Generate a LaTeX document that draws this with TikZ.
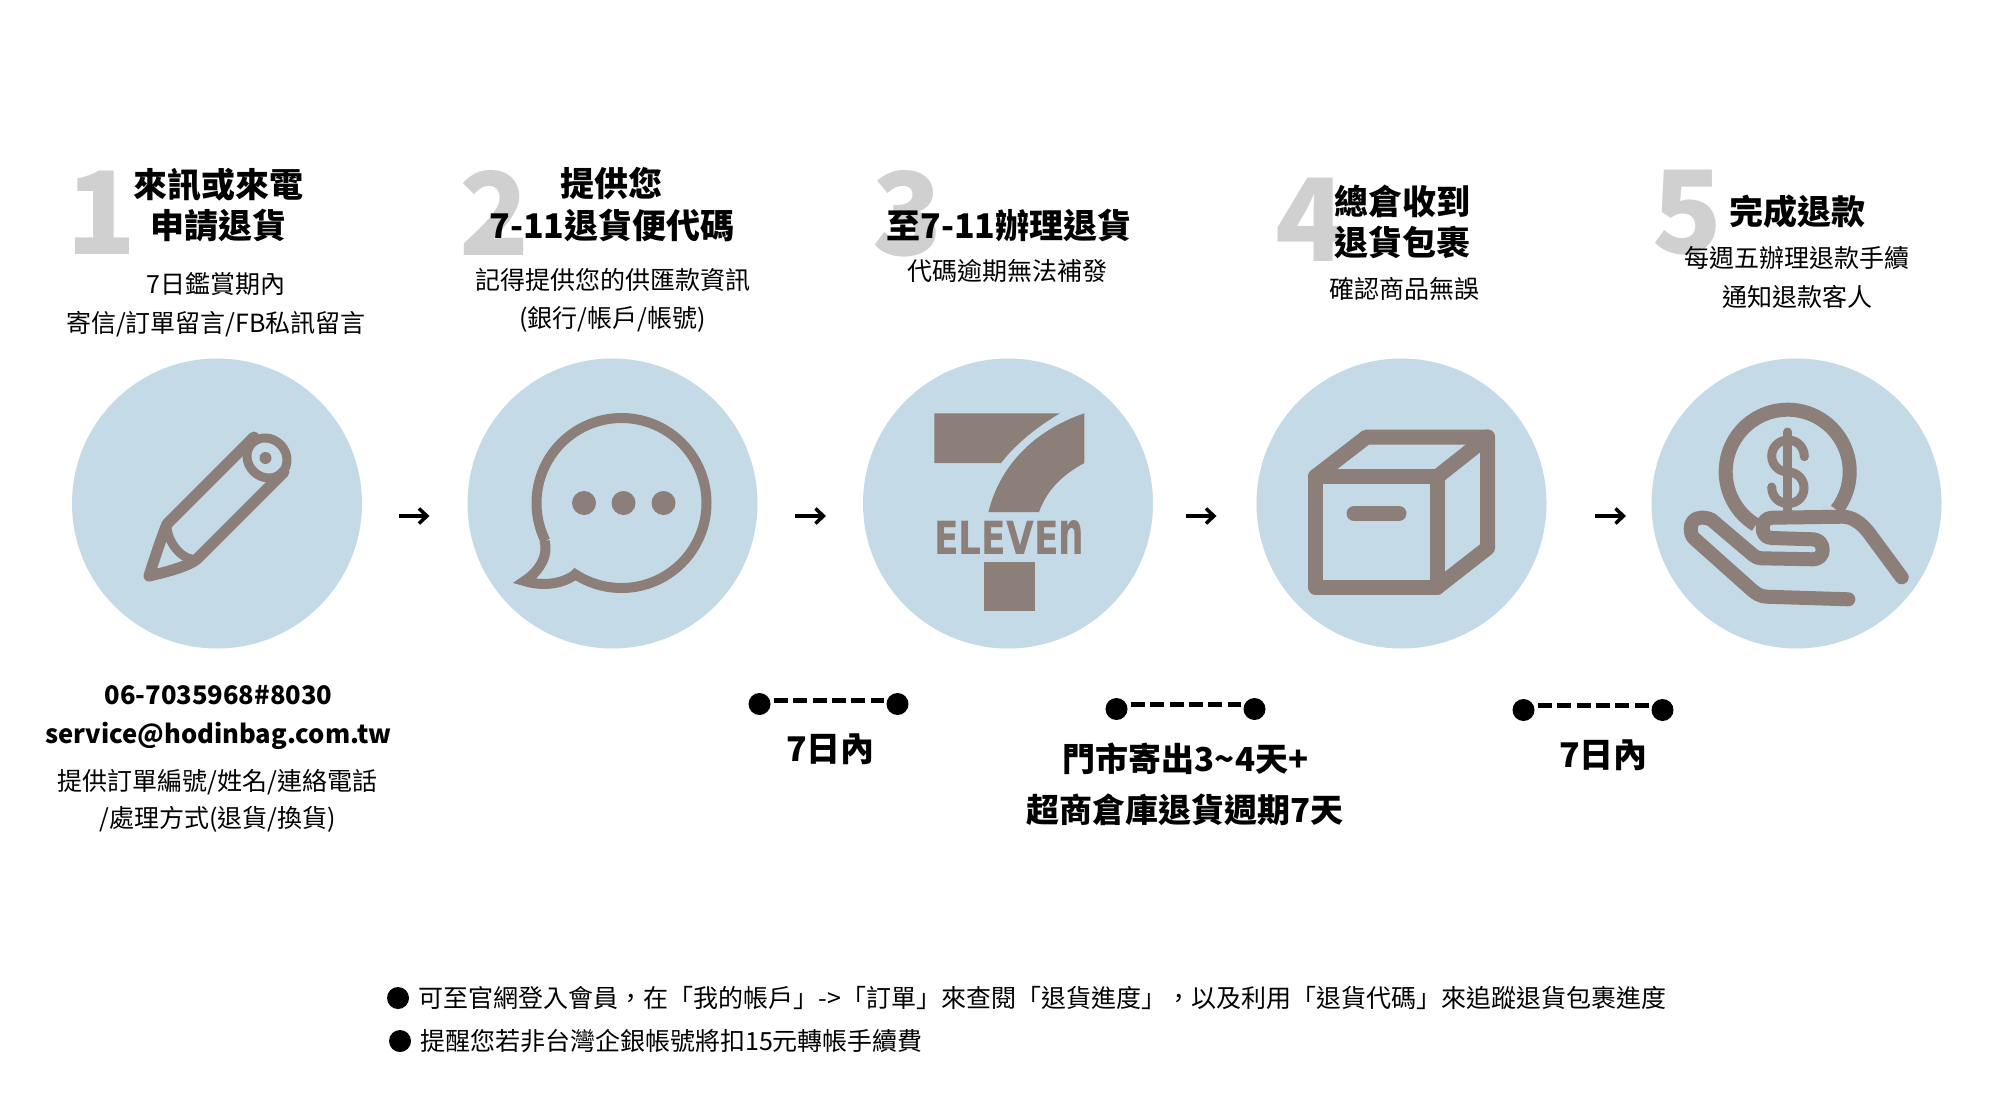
\documentclass[tikz,border=0pt]{standalone}
\usepackage{fontspec}
\usetikzlibrary{arrows.meta}
\newfontfamily\cjk{Noto Sans CJK TC}
\newfontfamily\logofont{DejaVu Sans}
\definecolor{circblue}{HTML}{C5DAE7}
\definecolor{iconbrown}{HTML}{8C7E78}
\definecolor{digitgray}{HTML}{D0D0D0}
\tikzset{
  bigdigit/.style={inner sep=0pt,text=digitgray,font=\cjk\bfseries\fontsize{115}{120}\selectfont},
  titletext/.style={inner sep=0pt,text=black,font=\cjk\bfseries\fontsize{34}{40}\selectfont},
  longtitle/.style={inner sep=0pt,text=black,font=\cjk\bfseries\fontsize{33}{40}\selectfont},
  infotext/.style={inner sep=0pt,text=black,font=\cjk\bfseries\fontsize{25.6}{30}\selectfont},
  bodytext/.style={inner sep=0pt,text=black,font=\cjk\fontsize{25}{30}\selectfont},
  notetext/.style={inner sep=0pt,anchor=west,text=black,font=\cjk\fontsize{25}{30}\selectfont},
  stepcircle/.style={circle,fill=circblue,minimum size=290pt,inner sep=0pt},
  enddot/.style={circle,fill=black,minimum size=22pt,inner sep=0pt},
  dashlink/.style={line width=5pt,dash pattern=on 14pt off 5.4pt,shorten <=3pt,shorten >=2pt},
  flowarrow/.style={line width=4pt,-{Straight Barb[length=8pt,width=15pt,line width=3.5pt]}},
  iconline/.style={draw=iconbrown,line join=round,line cap=round},
}
\begin{document}
\begin{tikzpicture}[x=1pt,y=-1pt]
\useasboundingbox (0,0) rectangle (2000,1100);
\fill[white] (0,0) rectangle (2000,1100);

% big digits
\node[bigdigit] (n1) at (102,213) {1};
\node[bigdigit] (n2) at (495,212.5) {2};
\node[bigdigit] (n3) at (908,213.5) {3};
\node[bigdigit] (n4) at (1310.5,219.5) {4};
\node[bigdigit] (n5) at (1687.5,213) {5};

% headings
\node[titletext] (t1a) at (218.5,185) {來訊或來電};
\node[titletext] (t1b) at (218.5,226) {申請退貨};
\node[titletext] (t2a) at (611.5,183) {提供您};
\node[titletext] (t2b) at (612,225) {7-11退貨便代碼};
\node[titletext] (t3a) at (1009,225) {至7-11辦理退貨};
\node[titletext] (t4a) at (1402.5,201) {總倉收到};
\node[titletext] (t4b) at (1402.5,242) {退貨包裹};
\node[titletext] (t5a) at (1797,212) {完成退款};

% body lines
\node[bodytext] (b1a) at (216,284) {7日鑑賞期內};
\node[bodytext] (b1b) at (216,324) {寄信/訂單留言/FB私訊留言};
\node[bodytext] (b2a) at (612.5,280) {記得提供您的供匯款資訊};
\node[bodytext] (b2b) at (612.5,319) {(銀行/帳戶/帳號)};
\node[bodytext] (b3a) at (1007,271) {代碼逾期無法補發};
\node[bodytext] (b4a) at (1404,289) {確認商品無誤};
\node[bodytext] (b5a) at (1797,258) {每週五辦理退款手續};
\node[bodytext] (b5b) at (1797,297) {通知退款客人};

% circles
\node[stepcircle] (c1) at (217,503.5) {};
\node[stepcircle] (c2) at (612.5,503.5) {};
\node[stepcircle] (c3) at (1008,503.5) {};
\node[stepcircle] (c4) at (1401.5,503.5) {};
\node[stepcircle] (c5) at (1796.5,503.5) {};

% arrows between circles
\coordinate (a1s) at (398.5,516); \coordinate (a1e) at (429.5,516);
\coordinate (a2s) at (795,516); \coordinate (a2e) at (826,516);
\coordinate (a3s) at (1185.5,516); \coordinate (a3e) at (1216.5,516);
\coordinate (a4s) at (1595,516); \coordinate (a4e) at (1626,516);
\draw[flowarrow] (a1s) -- (a1e);
\draw[flowarrow] (a2s) -- (a2e);
\draw[flowarrow] (a3s) -- (a3e);
\draw[flowarrow] (a4s) -- (a4e);

% pencil icon
\begin{scope}[xshift=-1pt]
\draw[iconline,line width=11pt] (255,437) -- (168,524)
  .. controls (163,536) and (155,560) .. (150,576)
  .. controls (168,572) and (190,566) .. (198,559) -- (285,472);
\draw[iconline,line width=9pt] (168,526) .. controls (168,542) and (184,562) .. (198,559);
\draw[iconline,line width=9pt,rotate around={-45:(268,458)}] (268,458) ellipse [x radius=21,y radius=19];
\fill[iconbrown] (266.5,458) circle [radius=6];
\end{scope}

% speech bubble icon
\begin{scope}[xshift=-2.5pt]
\draw[draw=iconbrown,line width=10pt,line join=miter]
  (547,541) .. controls (551,553) and (544,570) .. (527,581)
  .. controls (543,586) and (563,585) .. (577,575)
  -- plot[domain=123:-206.3,samples=140] ({624+85*cos(\x)},{503+85*sin(\x)});
\fill[iconbrown] (586.5,503) circle [radius=12];
\fill[iconbrown] (626,503) circle [radius=12];
\fill[iconbrown] (666,503) circle [radius=12];
\end{scope}

% 7-Eleven icon
\fill[iconbrown] (934.4,413.3) -- (1060,413.3) .. controls (1035,428) and (1015,445) .. (1001,463) -- (934.4,463) -- cycle;
\fill[iconbrown] (1084.4,413.3) -- (1084.4,463) .. controls (1062,475) and (1047,490) .. (1039,512)
  -- (988.4,512) .. controls (1000,465) and (1035,430) .. (1084.4,413.3) -- cycle;
\node[inner sep=0pt,text=iconbrown,font=\logofont\bfseries] (logo) at (1009.4,537) {\resizebox{150pt}{34pt}{ELEVE\scalebox{1}[1.33]{n}}};
\fill[iconbrown] (984.3,561.7) rectangle (1034.6,611);

% box icon
\begin{scope}[xshift=-2.5pt]
\draw[iconline,line width=15pt] (1318,476.5) rectangle (1440,587);
\draw[iconline,line width=15pt] (1318,476.5) -- (1369,437) -- (1490,437) -- (1490,548) -- (1440,587);
\draw[iconline,line width=15pt] (1440,476.5) -- (1490,437);
\draw[iconline,line width=15pt] (1356.5,513.5) -- (1401.5,513.5);
\end{scope}

% money icon
\draw[draw=iconbrown,line width=14pt] plot[domain=121:398,samples=120] ({1787.7+62*cos(\x)},{471.7+62*sin(\x)});
\draw[iconline,line width=9pt] (1787.7,432) -- (1787.7,513);
\draw[iconline,line width=9pt] (1804.3,456.7) .. controls (1804.3,447) and (1797,440) .. (1788,440)
  .. controls (1779,440) and (1771.7,447) .. (1771.7,456)
  .. controls (1771.7,465) and (1779,472) .. (1788,472)
  .. controls (1797,472) and (1804,479) .. (1804,488)
  .. controls (1804,497) and (1797,503.5) .. (1788,503.5)
  .. controls (1779,503.5) and (1771.7,497) .. (1771.7,487);
\draw[iconline,line width=14pt] (1901.7,577.3) -- (1868,531.7)
  .. controls (1860,522) and (1852,517) .. (1843,516.7)
  -- (1771.7,517.7) .. controls (1765,518) and (1762.7,523) .. (1762.7,528)
  .. controls (1762.7,533) and (1765,538) .. (1771.7,538)
  -- (1813,539.3) .. controls (1819,539.5) and (1822.7,544) .. (1822.7,550)
  .. controls (1822.7,555) and (1819,559.3) .. (1813,559.3)
  -- (1761.7,558.3) .. controls (1758,558) and (1755,557) .. (1753,555)
  -- (1711.7,520) .. controls (1708,518) and (1705,517.5) .. (1700.7,517.7)
  .. controls (1694,518) and (1690.7,523) .. (1690.7,528.3)
  .. controls (1690.7,532) and (1691.5,536) .. (1694,538.3)
  -- (1750,588.3) .. controls (1755,593) and (1760,596.5) .. (1766.7,596.7)
  -- (1848.3,599.3);

% contact block
\node[infotext] (i1) at (218.5,695) {06-7035968\#8030};
\node[infotext] (i2) at (218.5,736) {service@hodinbag.com.tw};
\node[bodytext] (i3) at (217.5,782) {提供訂單編號/姓名/連絡電話};
\node[bodytext] (i4) at (217.5,819) {/處理方式(退貨/換貨)};

% durations
\node[enddot] (d1a) at (759.5,704) {};
\node[enddot] (d1b) at (897.5,704) {};
\draw[dashlink] ([yshift=4pt]d1a.east) -- ([yshift=4pt]d1b.west);
\node[titletext] (dt1) at (830.5,749) {7日內};

\node[enddot] (d2a) at (1116.5,709) {};
\node[enddot] (d2b) at (1254.5,709) {};
\draw[dashlink] ([yshift=5pt]d2a.east) -- ([yshift=5pt]d2b.west);
\node[longtitle] (dt2a) at (1185.5,759) {門市寄出3\textasciitilde 4天+};
\node[longtitle] (dt2b) at (1185,810) {超商倉庫退貨週期7天};

\node[enddot] (d3a) at (1523.5,710) {};
\node[enddot] (d3b) at (1662.5,710) {};
\draw[dashlink] ([yshift=5pt]d3a.east) -- ([yshift=5pt]d3b.west);
\node[titletext] (dt3) at (1603.5,755) {7日內};

% notes
\node[enddot] (m1) at (398,998) {};
\node[notetext] (note1) at (418.5,998) {可至官網登入會員，在「我的帳戶」->「訂單」來查閱「退貨進度」，以及利用「退貨代碼」來追蹤退貨包裹進度};
\node[enddot] (m2) at (400,1041) {};
\node[notetext] (note2) at (420,1041) {提醒您若非台灣企銀帳號將扣15元轉帳手續費};
\end{tikzpicture}
\end{document}
